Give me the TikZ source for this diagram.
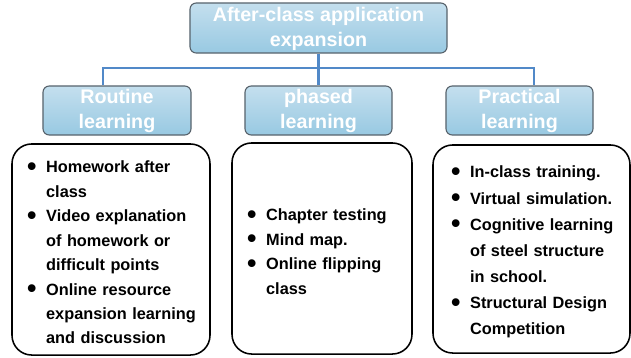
\documentclass[tikz,border=0pt]{standalone}
\usepackage{fontspec}
\setmainfont{Liberation Sans}
\usepackage{graphicx}
\usetikzlibrary{positioning}

\definecolor{headtop}{HTML}{C4DFEE}
\definecolor{headbot}{HTML}{98C9E2}
\definecolor{headedge}{HTML}{58636C}
\definecolor{linkblue}{HTML}{5189C8}

% big round bullet and a two-column list (bullet | text), lowered a bit
\newcommand{\dotmark}{\raisebox{-1.9pt}{\scalebox{1.65}{\textbullet}}}
\newcommand{\pointlist}[2][2.8pt]{\raisebox{-#1}[\height][\depth]{%
  \begin{tabular}{@{}p{13.6pt}@{}l@{}}#2\end{tabular}}}

\tikzset{
  headbox/.style={draw=headedge, line width=0.8pt, rounded corners=4.5pt,
    top color=headtop, bottom color=headbot, text=white, align=center,
    inner sep=0pt, minimum height=1.225cm,
    font=\fontsize{14}{17.8}\selectfont\bfseries},
  listbox/.style={draw=black, line width=1.1pt, rounded corners=14pt,
    inner xsep=10.7pt, inner ysep=0pt, align=left, minimum height=5.275cm,
    font=\fontsize{11.6}{17.4}\selectfont\bfseries},
  link/.style={draw=linkblue, line width=1.5pt}
}

\begin{document}
\begin{tikzpicture}[x=0.025cm, y=-0.025cm]
\useasboundingbox (0,0) rectangle (631,357);

% headers
\node[headbox, minimum width=6.425cm, minimum height=1.25cm] (top) at (318.5,28) {\raisebox{-1pt}[\height][\depth]{\begin{tabular}{@{}c@{}}After-class application\\expansion\end{tabular}}};
\node[headbox, minimum width=3.7cm] (routine) at (117,110.5) {Routine\\learning};
\node[headbox, minimum width=3.675cm] (phased) at (318.5,110.5) {phased\\learning};
\node[headbox, minimum width=3.675cm] (practical) at (519.5,110.5) {Practical\\learning};

% connectors
\coordinate (busl) at (103,68);
\coordinate (busr) at (534,68);
\draw[link] (top.south) -- (phased.north);
\draw[link] (busl |- routine.north) -- (busl) -- (busr) -- (busr |- practical.north);

% lists
\node[listbox, text width=119.4pt] (routinelist) at (111,249.5) {\pointlist{
  \dotmark & Homework after\\
           & class\\
  \dotmark & Video explanation\\
           & of homework or\\
           & difficult points\\
  \dotmark & Online resource\\
           & expansion learning\\
           & and discussion}};
\node[listbox, text width=106.6pt] (phasedlist) at (322,248.5) {\pointlist{
  \dotmark & Chapter testing\\
  \dotmark & Mind map.\\
  \dotmark & Online flipping\\
           & class}};
\node[listbox, inner xsep=12.8pt, text width=114.5pt, minimum height=5.2cm,
  font=\fontsize{11.6}{18.6}\selectfont\bfseries] (practicallist) at (531.5,249) {\pointlist[1.5pt]{
  \dotmark & In-class training.\\
  \dotmark & Virtual simulation.\\
  \dotmark & Cognitive learning\\
           & of steel structure\\
           & in school.\\
  \dotmark & Structural Design\\
           & Competition}};
\end{tikzpicture}
\end{document}
